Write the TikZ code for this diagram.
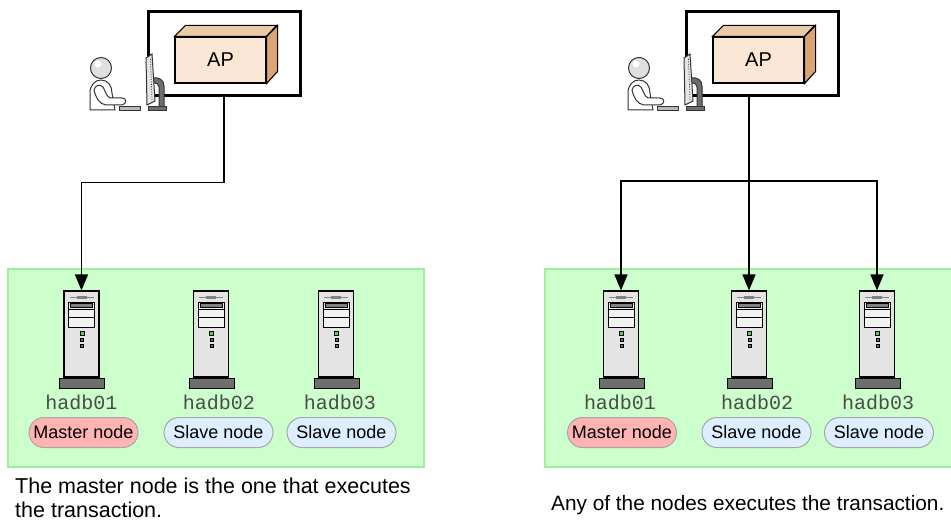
\documentclass[tikz,border=0pt]{standalone}
\usepackage{fontspec}
\setmainfont{Liberation Sans}
\newfontfamily\hostfont{Liberation Mono}
\usetikzlibrary{arrows.meta}

\definecolor{zonefill}{HTML}{CCFFCC}
\definecolor{zoneline}{HTML}{9EEE9E}
\definecolor{cubefront}{HTML}{F9E6D4}
\definecolor{cubetop}{HTML}{EACBA6}
\definecolor{cubeside}{HTML}{D9A673}
\definecolor{masterfill}{HTML}{FFB3B3}
\definecolor{slavefill}{HTML}{DDEEFF}
\definecolor{pillline}{HTML}{A6A6A6}
\definecolor{hostgray}{HTML}{4A4A4A}
\definecolor{srvgray}{HTML}{E4E4E4}
\definecolor{srvdark}{HTML}{6E6E6E}
\definecolor{ledgreen}{HTML}{44DD44}
\definecolor{figline}{HTML}{333333}

\tikzset{
  zone/.style={draw=zoneline, fill=zonefill, line width=1.5pt},
  appwin/.style={draw=black, line width=3pt, fill=white, minimum width=152pt, minimum height=84pt, inner sep=0pt},
  cubeface/.style={draw=black, line width=1.1pt},
  srvbody/.style={draw=black, line width=1.2pt, fill=srvgray, minimum width=35pt, minimum height=86pt, inner sep=0pt},
  srvpart/.style={draw=black, line width=0.8pt},
  hostname/.style={font=\hostfont\fontsize{20}{20}\selectfont, text=hostgray, inner sep=0pt},
  role/.style={draw=pillline, line width=1pt, rounded corners=15pt, minimum width=109pt, minimum height=30pt, inner sep=0pt, font=\fontsize{18}{18}\selectfont},
  masterrole/.style={role, fill=masterfill},
  slaverole/.style={role, fill=slavefill},
  link/.style={line width=1.5pt},
  arrowlink/.style={link, -{Triangle[length=16pt,width=13pt]}},
  caption/.style={font=\fontsize{21.5}{24}\selectfont, inner sep=0pt, anchor=base west},
  fig/.style={draw=figline, line width=1pt}
}

% one server tower: #1 = node name, #2 = x of its centre
\newcommand\hadbserver[2]{%
  \node[srvbody] (#1) at (#2,334) {};
  \begin{scope}[shift={(#2,334)}]
    \draw[gray, line width=1pt] (-12,-37) -- (12,-37);
    \fill[gray] (-5,-38.5) rectangle (5,-35.5);
    \draw[srvpart, fill=white!90!gray] (-13,-32) rectangle (13,-7);
    \draw[srvpart] (-13,-25) -- (13,-25) (-13,-17) -- (13,-17);
    \draw[srvpart, line width=0.6pt, fill=gray] (-11,-30.5) rectangle (11,-26.5);
    \draw[srvpart, line width=0.6pt, fill=ledgreen] (-1.5,-3) rectangle (2.5,1);
    \draw[srvpart, line width=0.5pt, fill=srvdark] (-1,4) rectangle (2,7);
    \draw[srvpart, line width=0.5pt, fill=srvdark] (-1,10) rectangle (2,13);
    \draw[draw=black, line width=1pt, fill=srvdark] (-22,44) rectangle (23,54);
  \end{scope}}

% operator at a desk with the AP window: #1 = x offset, #2 = name suffix
\newcommand\apstation[2]{%
  \node[appwin] (box#2) at (224+#1,54) {};
  \begin{scope}[shift={(#1,0)}]
    % operator
    \draw[fig, fill=white] (90,110) -- (90,93) .. controls (90,85) and (95,80) .. (101,80)
      .. controls (108,80) and (112,86) .. (112,93) -- (115,110) -- cycle;
    \draw[fig, fill=white] (94,90) .. controls (96,98) and (99,104) .. (106,105) -- (122,105)
      .. controls (127,104) and (127,98) .. (122,98) -- (110,98)
      .. controls (106,96) and (105,90) .. (103,87) .. controls (100,84) and (95,85) .. (94,90) -- cycle;
    \draw[fig, fill=gray!25] (101,68) circle (10.5);
    \fill[white] (98,64) circle (3.5);
    \draw[fig, fill=gray!55] (119,107) rectangle (140,110.5);
    % monitor and its stand
    \draw[fig, fill=srvdark] (153,78) .. controls (159,77) and (164,80) .. (164,86) -- (164,108) -- (159,108) -- (159,87) .. controls (159,84) and (157,83) .. (153,83) -- cycle;
    \draw[fig, fill=srvdark] (148,107) rectangle (166,110.5);
    \draw[fig, fill=gray!20] (146,58) -- (152,54) -- (155,101) -- (147,105) -- cycle;
    \draw[figline, line width=0.7pt, dash pattern=on 1pt off 1.5pt] (150.5,59) -- (152,100);
  \end{scope}
  \node[cubeface, fill=cubefront, minimum width=91pt, minimum height=46pt, inner sep=0pt,
        font=\fontsize{20}{20}\selectfont] (ap#2) at (220.5+#1,60) {AP};
  \draw[cubeface, fill=cubetop] (ap#2.north west) -- ++(11,-11) -- ++(91,0) -- (ap#2.north east) -- cycle;
  \draw[cubeface, fill=cubeside] (ap#2.north east) -- ++(11,-11) -- ++(0,46) -- (ap#2.south east) -- cycle;}

\begin{document}
\begin{tikzpicture}[x=1pt, y=-1pt]
\useasboundingbox (0,0) rectangle (951,524);

% ---------- master-node access ----------
\draw[zone] (8,269) rectangle (424,467);
\hadbserver{sA}{81.5}
\hadbserver{sB}{211}
\hadbserver{sC}{336}
\node[hostname, anchor=base] (hA) at (81.5,409) {hadb01};
\node[hostname, anchor=base] (hB) at (219,409) {hadb02};
\node[hostname, anchor=base] (hC) at (340,409) {hadb03};
\node[masterrole] (rA) at (83.5,432.5) {Master node};
\node[slaverole] (rB) at (218.5,432.5) {Slave node};
\node[slaverole] (rC) at (341.5,432.5) {Slave node};
\apstation{0}{L}
\draw[arrowlink] (boxL.south) -- ++(0,85) -| (sA.north);
\node[caption] (capL1) at (15,493) {The master node is the one that executes};
\node[caption] (capL2) at (15,517) {the transaction.};

% ---------- access to any node ----------
\draw[zone] (545,269) rectangle (962,467);
\hadbserver{sD}{621}
\hadbserver{sE}{749}
\hadbserver{sF}{877}
\node[hostname, anchor=base] (hD) at (620,409) {hadb01};
\node[hostname, anchor=base] (hE) at (757,409) {hadb02};
\node[hostname, anchor=base] (hF) at (878,409) {hadb03};
\node[masterrole] (rD) at (622,432.5) {Master node};
\node[slaverole] (rE) at (756.5,432.5) {Slave node};
\node[slaverole] (rF) at (879,432.5) {Slave node};
\apstation{538}{R}
\coordinate (jR) at (749,181);
\draw[arrowlink] (sE.north |- boxR.south) -- (sE.north);
\draw[arrowlink] (jR) -| (sD.north);
\draw[arrowlink] (jR) -| (sF.north);
\node[caption, font=\fontsize{20.8}{24}\selectfont] (capR) at (551,510) {Any of the nodes executes the transaction.};
\end{tikzpicture}
\end{document}
